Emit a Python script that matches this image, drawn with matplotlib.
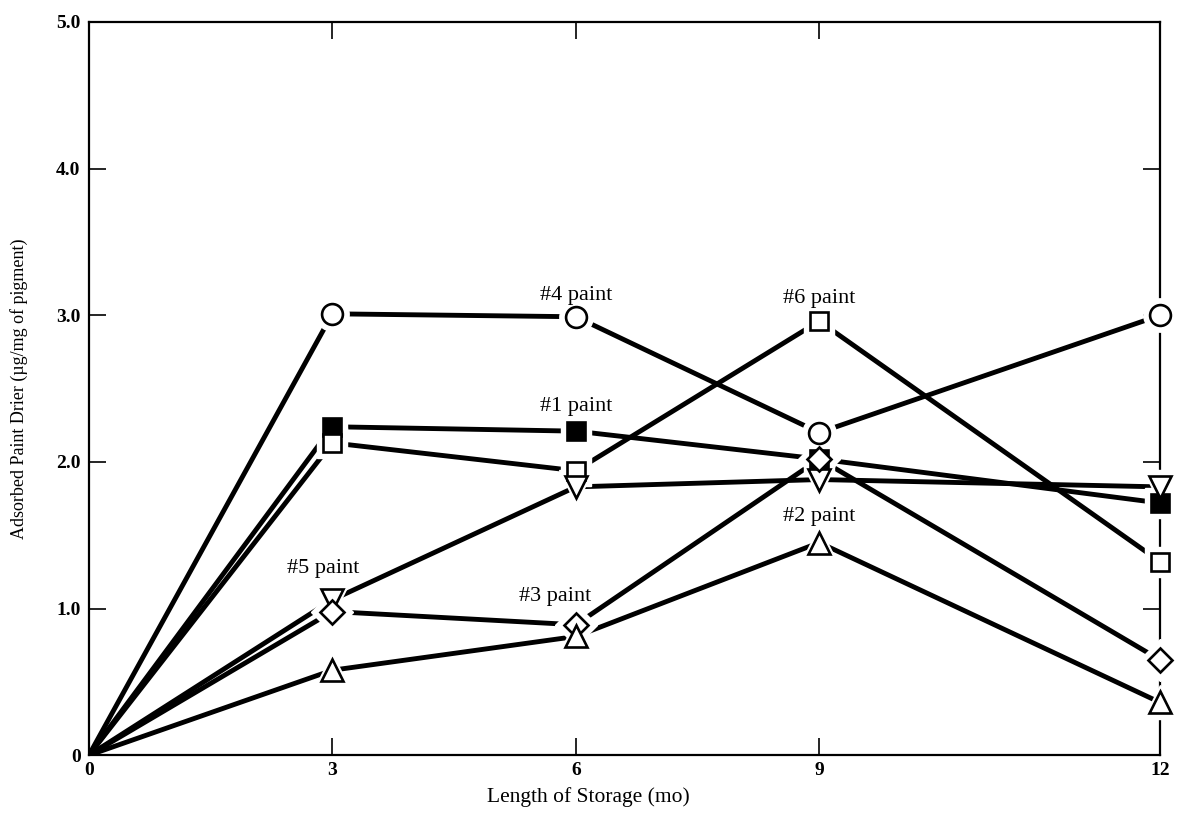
import numpy as np
import matplotlib.pyplot as plt

# months of storage and adsorbed drier (ug/mg of pigment)
months = [0, 3, 6, 9, 12]
paint1 = [0, 2.24, 2.21, 2.02, 1.72]
paint2 = [0, 0.58, 0.81, 1.45, 0.36]
paint3 = [0, 0.98, 0.89, 2.02, 0.65]
paint4 = [0, 3.01, 2.99, 2.20, 3.00]
paint5 = [0, 1.06, 1.83, 1.88, 1.83]
paint6 = [0, 2.13, 1.94, 2.96, 1.32]

xticks = [0, 3, 6, 9, 12]
yticks = [0, 1, 2, 3, 4, 5]
ytick_labels = ["0", "1.0", "2.0", "3.0", "4.0", "5.0"]

plt.rcParams["font.family"] = ["Liberation Serif", "DejaVu Serif"]

# the last interval (9-12 mo) is drawn wider than the others in the original
K = 1.40


def fwd(x):
    x = np.asarray(x, dtype=float)
    return np.where(x <= 9, x, 9 + (x - 9) * K)


def inv(y):
    y = np.asarray(y, dtype=float)
    return np.where(y <= 9, y, 9 + (y - 9) / K)


series = [
    (paint4, "o", "white"),
    (paint1, "s", "black"),
    (paint6, "s", "white"),
    (paint5, "v", "white"),
    (paint3, "D", "white"),
    (paint2, "^", "white"),
]
msize = {"o": 15, "s": 13, "v": 16, "^": 16, "D": 12}

fig = plt.figure(figsize=(11.85, 8.13), dpi=100)
ax = fig.add_axes([0.075, 0.071, 0.904, 0.902])
ax.set_xscale("function", functions=(fwd, inv))

for vals, mk, face in series:
    ax.plot(months, vals, color="black", lw=3.5, solid_capstyle="butt",
            zorder=2)
for vals, mk, face in series:
    # white halo so the lines stop short of the symbols
    ax.plot(months[1:], vals[1:], ls="none", marker=mk, ms=msize[mk] + 9,
            mfc="white", mec="white", zorder=3, clip_on=False)
for vals, mk, face in series:
    ax.plot(months[1:], vals[1:], ls="none", marker=mk, ms=msize[mk],
            mfc=face, mec="black", mew=1.9, zorder=4, clip_on=False)

txt = dict(ha="center", va="bottom", fontsize=16)
ax.text(6, 3.07, "#4 paint", **txt)
ax.text(6, 2.31, "#1 paint", **txt)
ax.text(9, 3.05, "#6 paint", **txt)
ax.text(9, 1.56, "#2 paint", **txt)
ax.text(2.89, 1.21, "#5 paint", **txt)
ax.text(5.75, 1.02, "#3 paint", **txt)

ax.set_xlim(0, 12)
ax.set_ylim(0, 5)
ax.set_xticks(xticks)
ax.set_xticklabels([str(t) for t in xticks], fontsize=14, fontweight="bold")
ax.set_yticks(yticks)
ax.set_yticklabels(ytick_labels, fontsize=14, fontweight="bold")
ax.tick_params(direction="in", length=12, width=1.2, top=True, right=True,
               labeltop=False, labelright=False, pad=6)
ax.tick_params(axis="x", pad=5)
for sp in ax.spines.values():
    sp.set_linewidth(1.6)

ax.set_xlabel("Length of Storage (mo)", fontsize=15.5)
ax.xaxis.set_label_coords(0.466, -0.043)
ax.set_ylabel("Adsorbed Paint Drier (\u00b5g/mg of pigment)", fontsize=13)
ax.yaxis.set_label_coords(-0.057, 0.5)

fig.savefig("out.png", dpi=100, facecolor="white")
